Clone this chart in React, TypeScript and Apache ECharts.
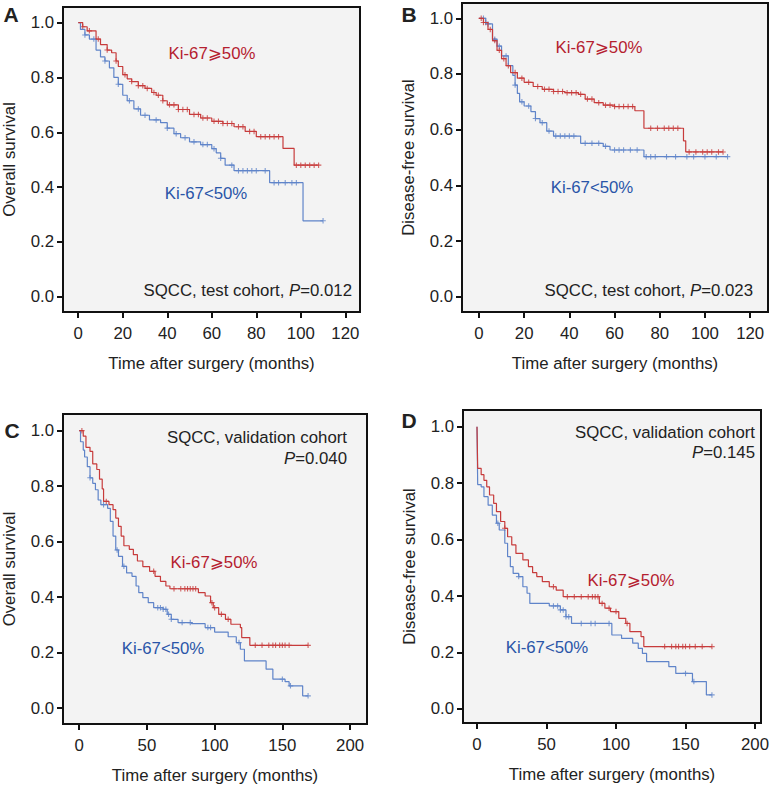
import React, { useEffect, useRef } from 'react';
import * as echarts from 'echarts';

const FONT = '"Liberation Sans", Arial, Helvetica, "DejaVu Sans", sans-serif';
const FS = 16.8;
const RED_LINE = '#c73b3b';
const BLUE_LINE = '#5f84c9';
const RED_TEXT = '#b5202f';
const BLUE_TEXT = '#2a55a8';
const TXT = '#222222';

const xTicksTest = [0, 20, 40, 60, 80, 100, 120];
const xTicksValid = [0, 50, 100, 150, 200];
const yTicks = [0, 0.2, 0.4, 0.6, 0.8, 1.0];

// Panel A — overall survival, test cohort
const aRedT = [0, 2, 4, 8, 10, 13, 15, 17, 18, 20, 22, 24, 27, 30, 33, 35, 38, 40, 45, 50, 55, 60, 65, 70, 75, 80, 92, 97];
const aRedS = [1.0, 0.985, 0.97, 0.94, 0.92, 0.9, 0.89, 0.86, 0.84, 0.81, 0.795, 0.785, 0.77, 0.76, 0.745, 0.735, 0.715, 0.7, 0.683, 0.665, 0.652, 0.64, 0.632, 0.62, 0.603, 0.584, 0.541, 0.48];
const aRedEnd = 108;
const aRedCens = [2, 5, 9, 13, 17, 21, 24, 27, 29, 31, 34, 36, 38, 41, 43, 45, 47, 49, 52, 54, 56, 58, 61, 63, 65, 67, 69, 72, 74, 77, 79, 82, 84, 86, 88, 90, 98, 100, 102, 104, 106, 108];
const aBlueT = [0, 1, 3, 5, 8, 10, 12, 14, 16, 18, 20, 22, 25, 28, 32, 37, 40, 43, 46, 50, 55, 60, 62, 64, 66, 70, 86, 101];
const aBlueS = [1.0, 0.975, 0.955, 0.94, 0.9, 0.875, 0.86, 0.835, 0.8, 0.775, 0.735, 0.715, 0.685, 0.662, 0.645, 0.635, 0.615, 0.595, 0.58, 0.565, 0.555, 0.54, 0.525, 0.505, 0.48, 0.46, 0.416, 0.277];
const aBlueEnd = 110;
const aBlueCens = [3, 7, 12, 18, 23, 27, 30, 35, 40, 44, 48, 52, 56, 58, 61, 64, 69, 72, 74, 76, 78, 80, 84, 88, 90, 93, 96, 98, 110];

// Panel B — disease-free survival, test cohort
const bRedT = [0, 2, 4, 6, 8, 10, 12, 14, 17, 20, 24, 28, 33, 38, 44, 47, 51, 55, 60, 69, 73, 90.5, 91.5];
const bRedS = [1.0, 0.985, 0.96, 0.92, 0.885, 0.855, 0.83, 0.805, 0.785, 0.77, 0.755, 0.745, 0.737, 0.733, 0.727, 0.71, 0.697, 0.688, 0.683, 0.668, 0.605, 0.56, 0.52];
const bRedEnd = 108;
const bRedCens = [1, 2, 3, 5, 7, 9, 11, 13, 16, 19, 22, 26, 29, 31, 33, 35, 37, 39, 41, 43, 45, 48, 50, 53, 56, 58, 60, 62, 64, 66, 68, 76, 79, 82, 84, 86, 88, 93, 96, 99, 101, 103, 106, 108];
const bBlueT = [0, 3, 6, 8, 10, 13, 15, 16, 17, 18, 20, 23, 25, 27, 30, 33, 45, 55, 58, 73];
const bBlueS = [1.0, 0.98, 0.925, 0.9, 0.865, 0.83, 0.795, 0.76, 0.73, 0.7, 0.685, 0.665, 0.64, 0.625, 0.595, 0.577, 0.551, 0.54, 0.527, 0.503];
const bBlueEnd = 110;
const bBlueCens = [2, 4, 7, 9, 12, 16, 19, 22, 25, 28, 31, 34, 36, 38, 40, 42, 47, 50, 53, 56, 60, 62, 64, 67, 70, 74, 76, 78, 83, 87, 92, 95, 100, 105, 110];

// Panel C — overall survival, validation cohort
const cRedT = [0, 3, 5, 8, 10, 13, 15, 17, 18, 22, 25, 27, 29, 31, 33, 37, 40, 43, 47, 52, 56, 60, 64, 67, 88, 93, 97, 99, 103, 108, 112, 119, 120, 126];
const cRedS = [1.0, 0.98, 0.94, 0.925, 0.88, 0.86, 0.825, 0.79, 0.745, 0.733, 0.715, 0.685, 0.655, 0.62, 0.585, 0.572, 0.553, 0.53, 0.51, 0.493, 0.475, 0.457, 0.44, 0.43, 0.416, 0.404, 0.38, 0.362, 0.338, 0.32, 0.302, 0.29, 0.254, 0.226];
const cRedEnd = 169;
const cRedCens = [2, 20, 55, 70, 75, 78, 80, 82, 84, 86, 98, 100, 105, 110, 130, 135, 140, 143, 145, 148, 150, 152, 155, 169];
const cBlueT = [0, 1, 3, 4, 6, 8, 10, 12, 14, 16, 21, 23, 25, 27, 29, 32, 35, 39, 42, 44, 47, 51, 55, 62, 65, 68, 73, 83, 93, 100, 110, 116, 119, 122, 138, 143, 152, 155, 165];
const cBlueS = [1.0, 0.96, 0.93, 0.905, 0.87, 0.83, 0.81, 0.787, 0.75, 0.733, 0.72, 0.673, 0.62, 0.57, 0.547, 0.511, 0.487, 0.475, 0.44, 0.416, 0.398, 0.38, 0.362, 0.356, 0.338, 0.32, 0.308, 0.304, 0.29, 0.274, 0.257, 0.236, 0.212, 0.17, 0.14, 0.104, 0.095, 0.08, 0.044];
const cBlueEnd = 169;
const cBlueCens = [8, 18, 28, 33, 58, 60, 62, 64, 66, 68, 76, 82, 95, 97, 118, 150, 156, 169];

// Panel D — disease-free survival, validation cohort
const dRedT = [0, 0.5, 3, 5, 7, 9, 12, 14, 17, 20, 22, 25, 28, 33, 37, 40, 43, 47, 52, 57, 62, 88, 92, 96, 102, 107, 110, 118, 120];
const dRedS = [1.0, 0.852, 0.83, 0.81, 0.787, 0.758, 0.728, 0.699, 0.664, 0.64, 0.61, 0.581, 0.551, 0.528, 0.504, 0.483, 0.469, 0.451, 0.433, 0.421, 0.398, 0.374, 0.357, 0.345, 0.321, 0.303, 0.274, 0.256, 0.221];
const dRedEnd = 169;
const dRedCens = [20, 55, 65, 70, 75, 80, 83, 85, 87, 90, 95, 100, 108, 135, 140, 143, 145, 148, 150, 153, 157, 162, 169];
const dBlueT = [0, 0.5, 3, 5, 8, 11, 14, 16, 20, 22, 24, 26, 30, 33, 36, 38, 52, 60, 64, 68, 97, 104, 112, 116, 119, 122, 138, 143, 155, 165];
const dBlueS = [1.0, 0.795, 0.787, 0.752, 0.722, 0.687, 0.658, 0.634, 0.587, 0.54, 0.504, 0.48, 0.469, 0.433, 0.41, 0.374, 0.365, 0.351, 0.327, 0.303, 0.262, 0.25, 0.233, 0.215, 0.197, 0.168, 0.15, 0.126, 0.097, 0.05];
const dBlueEnd = 169;
const dBlueCens = [15, 30, 55, 58, 60, 62, 64, 66, 75, 82, 85, 95, 150, 156, 169];

const PLUS = 'path://M4,0h2v4h4v2h-4v4h-2v-4h-4v-2h4z';

function stepAt(ts: number[], ss: number[], t: number) {
  let v = ss[0];
  for (let i = 0; i < ts.length; i++) if (ts[i] <= t) v = ss[i];
  return v;
}
function curve(ts: number[], ss: number[], end: number) {
  const d = ts.map((t, i) => [t, ss[i]]);
  d.push([end, ss[ss.length - 1]]);
  return d;
}
function censors(ts: number[], ss: number[], cs: number[]) {
  return cs.map((c) => [c, stepAt(ts, ss, c)]);
}

type Panel = {
  grid: { left: number; top: number; width: number; height: number };
  x: [number, number];
  y: [number, number];
  xTicks: number[];
  yName: string;
  red: [number[], number[], number, number[]];
  blue: [number[], number[], number, number[]];
};

const panels: Panel[] = [
  { grid: { left: 62, top: 7, width: 298, height: 305 }, x: [-6.85, 126.6], y: [-0.0558, 1.057], xTicks: xTicksTest, yName: 'Overall survival', red: [aRedT, aRedS, aRedEnd, aRedCens], blue: [aBlueT, aBlueS, aBlueEnd, aBlueCens] },
  { grid: { left: 462, top: 3, width: 306, height: 309 }, x: [-7.5, 127.9], y: [-0.055, 1.055], xTicks: xTicksTest, yName: 'Disease-free survival', red: [bRedT, bRedS, bRedEnd, bRedCens], blue: [bBlueT, bBlueS, bBlueEnd, bBlueCens] },
  { grid: { left: 61, top: 414, width: 306, height: 311 }, x: [-11.95, 212.5], y: [-0.0575, 1.06], xTicks: xTicksValid, yName: 'Overall survival', red: [cRedT, cRedS, cRedEnd, cRedCens], blue: [cBlueT, cBlueS, cBlueEnd, cBlueCens] },
  { grid: { left: 463, top: 410, width: 298, height: 313 }, x: [-10.07, 204.3], y: [-0.0496, 1.059], xTicks: xTicksValid, yName: 'Disease-free survival', red: [dRedT, dRedS, dRedEnd, dRedCens], blue: [dBlueT, dBlueS, dBlueEnd, dBlueCens] },
];

function txt(x: number, y: number, text: string, opts: any = {}) {
  return {
    type: 'text',
    x,
    y,
    style: {
      text,
      fill: opts.fill || TXT,
      font: opts.font || `${FS}px ${FONT}`,
      align: opts.align || 'center',
      verticalAlign: 'middle',
      rich: opts.rich,
    },
  };
}

const richNP = {
  n: { fontSize: FS, fontFamily: FONT, fill: TXT },
  i: { fontSize: FS, fontFamily: FONT, fill: TXT, fontStyle: 'italic' },
};

export default function App() {
  const ref = useRef<HTMLDivElement>(null);
  useEffect(() => {
    if (!ref.current) return;
    const chart = echarts.init(ref.current, undefined, { renderer: 'svg' });
    const grid = panels.map((p) => ({
      ...p.grid,
      show: true,
      backgroundColor: '#f3f3f3',
      borderColor: '#111111',
      borderWidth: 2,
    }));
    const labelStyle = { color: TXT, fontSize: FS, fontFamily: FONT };
    const xAxis = panels.map((p, i) => ({
      type: 'value',
      gridIndex: i,
      min: p.x[0],
      max: p.x[1],
      axisLine: { show: false, onZero: false },
      splitLine: { show: false },
      axisTick: { show: true, customValues: p.xTicks, length: 6, lineStyle: { color: '#111', width: 2 } },
      axisLabel: { ...labelStyle, customValues: p.xTicks, margin: 13 },
      name: 'Time after surgery (months)',
      nameLocation: 'middle',
      nameGap: 43,
      nameTextStyle: { ...labelStyle },
    }));
    const yAxis = panels.map((p, i) => ({
      type: 'value',
      gridIndex: i,
      min: p.y[0],
      max: p.y[1],
      axisLine: { show: false, onZero: false },
      splitLine: { show: false },
      axisTick: { show: true, customValues: yTicks, length: 6, lineStyle: { color: '#111', width: 2 } },
      axisLabel: { ...labelStyle, customValues: yTicks, margin: 9, formatter: (v: number) => v.toFixed(1) },
      name: p.yName,
      nameLocation: 'middle',
      nameGap: 45,
      nameTextStyle: { ...labelStyle },
    }));
    const series: any[] = [];
    panels.forEach((p, i) => {
      const groups: [any, string][] = [[p.blue, BLUE_LINE], [p.red, RED_LINE]];
      groups.forEach(([g, col]) => {
        series.push({
          type: 'line',
          xAxisIndex: i,
          yAxisIndex: i,
          data: curve(g[0], g[1], g[2]),
          step: 'end',
          symbol: 'none',
          silent: true,
          lineStyle: { color: col, width: 1.2 },
        });
        series.push({
          type: 'scatter',
          xAxisIndex: i,
          yAxisIndex: i,
          data: censors(g[0], g[1], g[3]),
          symbol: PLUS,
          symbolSize: 5.5,
          silent: true,
          itemStyle: { color: col },
        });
      });
    });
    const bold = `bold 21px ${FONT}`;
    const graphic = [
      txt(11, 14, 'A', { font: bold }),
      txt(409, 14, 'B', { font: bold }),
      txt(12, 430, 'C', { font: bold }),
      txt(409, 420, 'D', { font: bold }),
      txt(212, 53, 'Ki-67⩾50%', { fill: RED_TEXT }),
      txt(206, 193, 'Ki-67<50%', { fill: BLUE_TEXT }),
      txt(599, 47, 'Ki-67⩾50%', { fill: RED_TEXT }),
      txt(592, 187, 'Ki-67<50%', { fill: BLUE_TEXT }),
      txt(214, 562, 'Ki-67⩾50%', { fill: RED_TEXT }),
      txt(163, 648, 'Ki-67<50%', { fill: BLUE_TEXT }),
      txt(631, 580, 'Ki-67⩾50%', { fill: RED_TEXT }),
      txt(547, 647, 'Ki-67<50%', { fill: BLUE_TEXT }),
      txt(352, 290, '{n|SQCC, test cohort, }{i|P}{n|=0.012}', { align: 'right', rich: richNP }),
      txt(753, 290, '{n|SQCC, test cohort, }{i|P}{n|=0.023}', { align: 'right', rich: richNP }),
      txt(347, 437, 'SQCC, validation cohort', { align: 'right' }),
      txt(347, 458, '{i|P}{n|=0.040}', { align: 'right', rich: richNP }),
      txt(755, 432, 'SQCC, validation cohort', { align: 'right' }),
      txt(755, 452, '{i|P}{n|=0.145}', { align: 'right', rich: richNP }),
    ];
    chart.setOption({
      animation: false,
      backgroundColor: '#ffffff',
      grid,
      xAxis,
      yAxis,
      series,
      graphic,
    });
    return () => chart.dispose();
  }, []);
  return (
    <div
      ref={ref}
      style={{ position: 'absolute', left: 0, top: 0, width: 774, height: 785 }}
    />
  );
}
